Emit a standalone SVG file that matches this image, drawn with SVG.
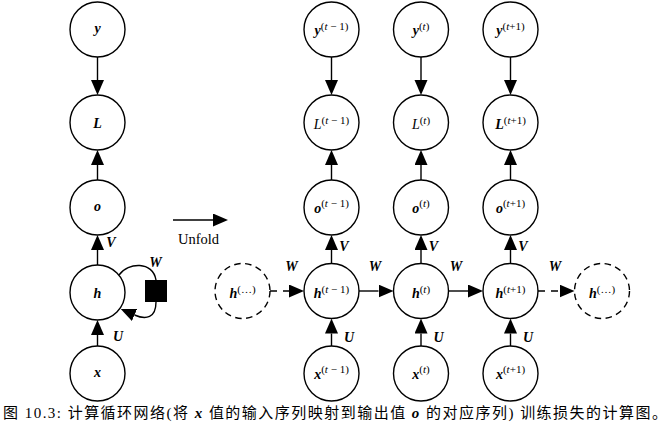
<svg xmlns="http://www.w3.org/2000/svg" width="671" height="425" viewBox="0 0 671 425">
<style>
  .node { fill: #fff; stroke: #000; stroke-width: 1.4; }
  .dnode { fill: #fff; stroke: #000; stroke-width: 1.4; stroke-dasharray: 6.5 4.5; }
  .edge { fill: none; stroke: #000; stroke-width: 1.4; }
  .dedge { fill: none; stroke: #000; stroke-width: 1.4; stroke-dasharray: 7 6; }
  text { font-family: "Liberation Serif", "Noto Sans CJK SC", serif; fill: #000; }
  .lbl { font-size: 14px; text-anchor: middle; }
  .bi { font-weight: bold; font-style: italic; }
  .it { font-style: italic; font-weight: normal; }
  .sup { font-size: 11px; font-weight: normal; font-style: normal; }
  .el { font-size: 14px; font-weight: bold; font-style: italic; text-anchor: middle; }
  .cap { font-size: 15px; }
</style>
<defs>
  <marker id="arr" markerUnits="userSpaceOnUse" markerWidth="16" markerHeight="14" refX="0" refY="6.5" orient="auto">
    <path d="M0,0 L15,6.5 L0,13 Z" fill="#000"/>
  </marker>
</defs>

<!-- Folded network -->
<g id="node-y"><circle class="node" cx="97.5" cy="29.5" r="27.5"/><text class="lbl" x="97.5" y="33"><tspan class="bi">y</tspan></text></g>
<g id="node-L"><circle class="node" cx="97.5" cy="122.5" r="27.5"/><text class="lbl" x="97.5" y="128"><tspan class="bi">L</tspan></text></g>
<g id="node-o"><circle class="node" cx="97.5" cy="207.5" r="27.5"/><text class="lbl" x="97.5" y="210.5"><tspan class="bi">o</tspan></text></g>
<g id="node-h"><circle class="node" cx="97.5" cy="292.5" r="27.5"/><text class="lbl" x="97.5" y="298"><tspan class="bi">h</tspan></text></g>
<g id="node-x"><circle class="node" cx="97.5" cy="373.5" r="27.5"/><text class="lbl" x="97.5" y="377"><tspan class="bi">x</tspan></text></g>
<g id="node-delay"><rect x="145" y="280" width="22" height="22" fill="#000"/></g>

<!-- Unrolled: t-1 -->
<g id="node-y-tm1"><circle class="node" cx="331.5" cy="29.5" r="27.5"/><text class="lbl" x="331.5" y="35"><tspan class="bi">y</tspan><tspan class="sup" dy="-5">(<tspan class="it">t</tspan> − 1)</tspan></text></g>
<g id="node-L-tm1"><circle class="node" cx="331.5" cy="122.5" r="27.5"/><text class="lbl" x="331.5" y="129"><tspan class="it">L</tspan><tspan class="sup" dy="-5">(<tspan class="it">t</tspan> − 1)</tspan></text></g>
<g id="node-o-tm1"><circle class="node" cx="331.5" cy="207.5" r="27.5"/><text class="lbl" x="331.5" y="213"><tspan class="bi">o</tspan><tspan class="sup" dy="-6">(<tspan class="it">t</tspan> − 1)</tspan></text></g>
<g id="node-h-tm1"><circle class="node" cx="331.5" cy="291" r="27.5"/><text class="lbl" x="331.5" y="297.5"><tspan class="bi">h</tspan><tspan class="sup" dy="-5">(<tspan class="it">t</tspan> − 1)</tspan></text></g>
<g id="node-x-tm1"><circle class="node" cx="331.5" cy="373.5" r="27.5"/><text class="lbl" x="331.5" y="379"><tspan class="bi">x</tspan><tspan class="sup" dy="-6">(<tspan class="it">t</tspan> − 1)</tspan></text></g>

<!-- Unrolled: t -->
<g id="node-y-t"><circle class="node" cx="421" cy="29.5" r="27.5"/><text class="lbl" x="421" y="35"><tspan class="bi">y</tspan><tspan class="sup" dy="-5">(<tspan class="it">t</tspan>)</tspan></text></g>
<g id="node-L-t"><circle class="node" cx="421" cy="122.5" r="27.5"/><text class="lbl" x="421" y="129"><tspan class="it">L</tspan><tspan class="sup" dy="-5">(<tspan class="it">t</tspan>)</tspan></text></g>
<g id="node-o-t"><circle class="node" cx="421" cy="207.5" r="27.5"/><text class="lbl" x="421" y="213"><tspan class="bi">o</tspan><tspan class="sup" dy="-6">(<tspan class="it">t</tspan>)</tspan></text></g>
<g id="node-h-t"><circle class="node" cx="421" cy="291" r="27.5"/><text class="lbl" x="421" y="297.5"><tspan class="bi">h</tspan><tspan class="sup" dy="-5">(<tspan class="it">t</tspan>)</tspan></text></g>
<g id="node-x-t"><circle class="node" cx="421" cy="373.5" r="27.5"/><text class="lbl" x="421" y="379"><tspan class="bi">x</tspan><tspan class="sup" dy="-6">(<tspan class="it">t</tspan>)</tspan></text></g>

<!-- Unrolled: t+1 -->
<g id="node-y-tp1"><circle class="node" cx="510.5" cy="29.5" r="27.5"/><text class="lbl" x="510.5" y="35"><tspan class="bi">y</tspan><tspan class="sup" dy="-5">(<tspan class="it">t</tspan>+1)</tspan></text></g>
<g id="node-L-tp1"><circle class="node" cx="510.5" cy="122.5" r="27.5"/><text class="lbl" x="510.5" y="129"><tspan class="bi">L</tspan><tspan class="sup" dy="-5">(<tspan class="it">t</tspan>+1)</tspan></text></g>
<g id="node-o-tp1"><circle class="node" cx="510.5" cy="207.5" r="27.5"/><text class="lbl" x="510.5" y="213"><tspan class="bi">o</tspan><tspan class="sup" dy="-6">(<tspan class="it">t</tspan>+1)</tspan></text></g>
<g id="node-h-tp1"><circle class="node" cx="510.5" cy="291" r="27.5"/><text class="lbl" x="510.5" y="297.5"><tspan class="bi">h</tspan><tspan class="sup" dy="-5">(<tspan class="it">t</tspan>+1)</tspan></text></g>
<g id="node-x-tp1"><circle class="node" cx="510.5" cy="373.5" r="27.5"/><text class="lbl" x="510.5" y="379"><tspan class="bi">x</tspan><tspan class="sup" dy="-6">(<tspan class="it">t</tspan>+1)</tspan></text></g>

<!-- Dashed context nodes -->
<g id="node-h-prev"><circle class="dnode" cx="242.5" cy="291" r="27.5"/><text class="lbl" x="242.5" y="297.5"><tspan class="bi">h</tspan><tspan class="sup" dy="-5">(…)</tspan></text></g>
<g id="node-h-next"><circle class="dnode" cx="602" cy="291" r="27.5"/><text class="lbl" x="602" y="297.5"><tspan class="bi">h</tspan><tspan class="sup" dy="-5">(…)</tspan></text></g>

<!-- Connectors -->
<g id="connectors">
  <!-- folded -->
  <line class="edge" x1="97.5" y1="57" x2="97.5" y2="80" marker-end="url(#arr)"/>
  <line class="edge" x1="97.5" y1="180" x2="97.5" y2="165" marker-end="url(#arr)"/>
  <line class="edge" x1="97.5" y1="265" x2="97.5" y2="250" marker-end="url(#arr)"/>
  <line class="edge" x1="97.5" y1="346" x2="97.5" y2="335" marker-end="url(#arr)"/>
  <path class="edge" d="M119,275 C128,262 153,261 156,280"/>
  <path class="edge" d="M156,302 C156,318 146,320 134.5,315" marker-end="url(#arr)"/>

  <!-- unfold arrow -->
  <line class="edge" x1="173" y1="220" x2="213" y2="220" marker-end="url(#arr)"/>

  <!-- unrolled verticals -->
  <line class="edge" x1="331.5" y1="57" x2="331.5" y2="80" marker-end="url(#arr)"/>
  <line class="edge" x1="331.5" y1="180" x2="331.5" y2="165" marker-end="url(#arr)"/>
  <line class="edge" x1="331.5" y1="263.5" x2="331.5" y2="250" marker-end="url(#arr)"/>
  <line class="edge" x1="331.5" y1="346" x2="331.5" y2="333.5" marker-end="url(#arr)"/>

  <line class="edge" x1="421" y1="57" x2="421" y2="80" marker-end="url(#arr)"/>
  <line class="edge" x1="421" y1="180" x2="421" y2="165" marker-end="url(#arr)"/>
  <line class="edge" x1="421" y1="263.5" x2="421" y2="250" marker-end="url(#arr)"/>
  <line class="edge" x1="421" y1="346" x2="421" y2="333.5" marker-end="url(#arr)"/>

  <line class="edge" x1="510.5" y1="57" x2="510.5" y2="80" marker-end="url(#arr)"/>
  <line class="edge" x1="510.5" y1="180" x2="510.5" y2="165" marker-end="url(#arr)"/>
  <line class="edge" x1="510.5" y1="263.5" x2="510.5" y2="250" marker-end="url(#arr)"/>
  <line class="edge" x1="510.5" y1="346" x2="510.5" y2="333.5" marker-end="url(#arr)"/>

  <!-- unrolled horizontals -->
  <line class="dedge" x1="270" y1="291" x2="289" y2="291" marker-end="url(#arr)"/>
  <line class="edge" x1="359" y1="291" x2="378.5" y2="291" marker-end="url(#arr)"/>
  <line class="edge" x1="448.5" y1="291" x2="468" y2="291" marker-end="url(#arr)"/>
  <line class="dedge" x1="538" y1="291" x2="559.5" y2="291" marker-end="url(#arr)"/>

  <!-- edge labels -->
  <text class="el" x="111" y="247">V</text>
  <text class="el" x="118" y="341">U</text>
  <text class="el" x="155.5" y="267">W</text>
  <text class="el" x="344" y="251">V</text>
  <text class="el" x="433.5" y="251">V</text>
  <text class="el" x="523" y="251">V</text>
  <text class="el" x="349" y="342">U</text>
  <text class="el" x="438.5" y="342">U</text>
  <text class="el" x="528" y="342">U</text>
  <text class="el" x="291.5" y="271">W</text>
  <text class="el" x="375" y="271">W</text>
  <text class="el" x="456" y="271">W</text>
  <text class="el" x="555" y="271">W</text>
</g>

<text x="198.5" y="244" font-size="14.5" text-anchor="middle">Unfold</text>

<text class="cap" x="3" y="418" textLength="664" lengthAdjust="spacing">图 10.3: 计算循环网络(将 <tspan class="bi">x</tspan> 值的输入序列映射到输出值 <tspan class="bi">o</tspan> 的对应序列) 训练损失的计算图。</text>
</svg>
